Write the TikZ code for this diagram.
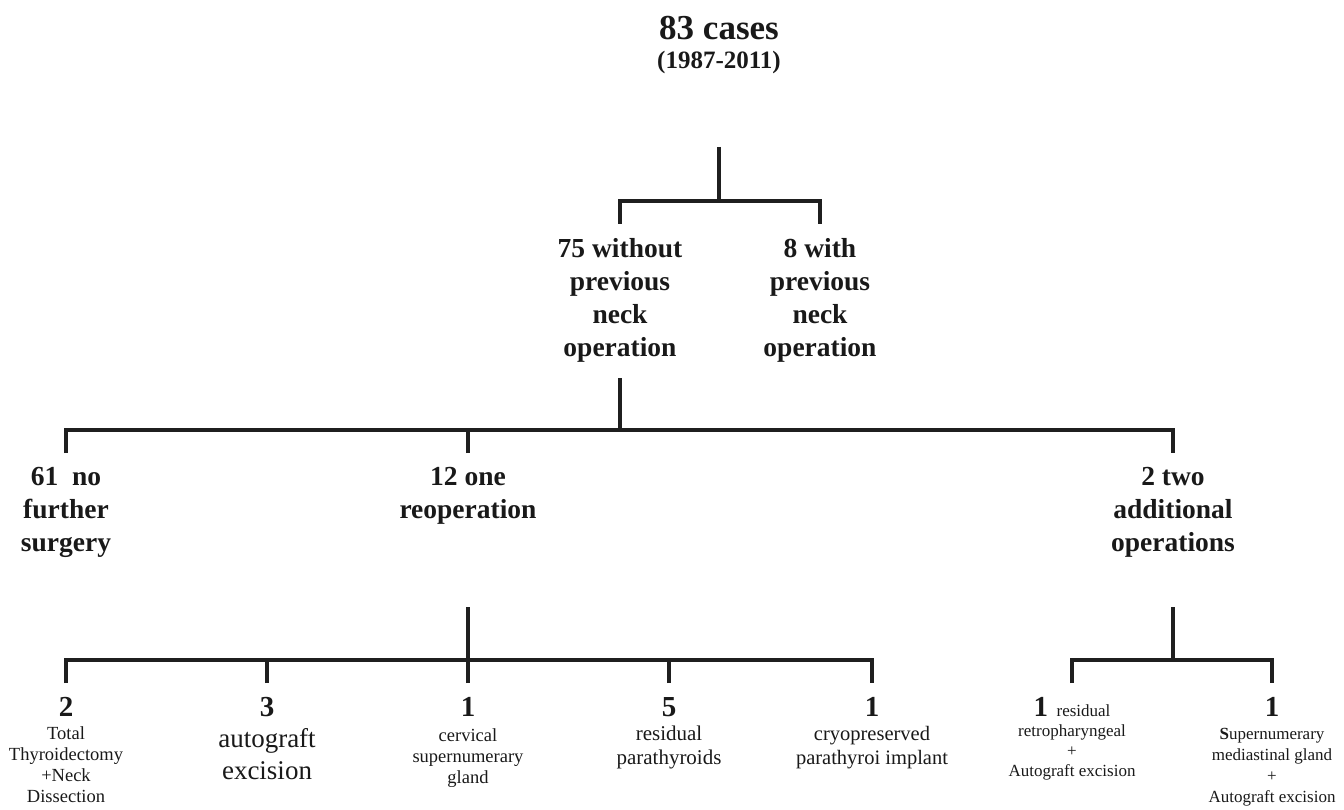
\documentclass[tikz,border=0pt]{standalone}
\usepackage{fontspec}
\setmainfont{Liberation Serif}
\usetikzlibrary{positioning, calc}
\tikzset{
	branch/.style={line width=4pt, color=black!88}
}
\tikzset{
	headtext/.style={font=\fontsize{27.5}{33}\selectfont\bfseries, align=center, inner xsep=0pt, inner ysep=14pt, anchor=north}
}
\tikzset{
	leaftext/.style={align=center, inner xsep=0pt, inner ysep=14.5pt, anchor=north}
}
\newcommand{\leafnum}[1]{{\fontsize{29}{29}\selectfont\bfseries #1}}

\begin{document}
\begin{tikzpicture}[x=1pt, y=-1pt, text=black!90]
      \useasboundingbox (0,0) rectangle (1344,810);
      % title
      \node[font=\fontsize{35}{35}\selectfont\bfseries, anchor=base] (title) at (719,40) {83 cases};
      \node[font=\fontsize{25}{25}\selectfont\bfseries, anchor=base] (years) at (719,69) {(1987-2011)};
      % first split
      \node[headtext] (nonprev) at (620,224) {75 without\\previous\\neck\\operation};
      \node[headtext] (prev) at (820,224) {8 with\\previous\\neck\\operation};
      \coordinate (top) at (719,147);
      \draw[branch] (top) -- ++(0,54) coordinate (fork1);
      \draw[branch] (nonprev.north) |- (fork1) -| (prev.north);
      % outcome after first operation
      \node[headtext] (nofurther) at (66,453) {61~~no\\further\\surgery};
      \node[headtext] (onereop) at (468,453) {12 one\\reoperation};
      \node[headtext] (twoadd) at (1173,453) {2 two\\additional\\operations};
      \coordinate (mid1) at (620,378);
      \draw[branch] (mid1) -- ++(0,52) coordinate (fork2);
      \draw[branch] (nofurther.north) |- (fork2) -| (twoadd.north);
      \draw[branch] (onereop.north) -- (onereop.north |- fork2);
      % one reoperation
      \node[leaftext, font=\fontsize{18.5}{21}\selectfont] (thyroid) at (66,683)
        {\leafnum{2}\\[2pt]Total\\Thyroidectomy\\+Neck\\Dissection};
      \node[leaftext, font=\fontsize{27}{32}\selectfont] (autograft) at (267,683)
        {\leafnum{3}\\[-1pt]autograft\\excision};
      \node[leaftext, font=\fontsize{18.5}{21}\selectfont] (cervical) at (468,683)
        {\leafnum{1}\\[4pt]cervical\\supernumerary\\gland};
      \node[leaftext, font=\fontsize{21}{24}\selectfont] (residual) at (669,683)
        {\leafnum{5}\\residual\\parathyroids};
      \node[leaftext, font=\fontsize{20.5}{24}\selectfont] (cryo) at (872,683)
        {\leafnum{1}\\cryopreserved\\parathyroi implant};
      \coordinate (mid2) at (468,607);
      \draw[branch] (mid2) -- ++(0,53) coordinate (fork3);
      \draw[branch] (thyroid.north) |- (fork3) -| (cryo.north);
      \foreach \leaf in {autograft, cervical, residual}
        \draw[branch] (\leaf.north) -- (\leaf.north |- fork3);
      % two additional operations
      \node[leaftext, font=\fontsize{17}{20}\selectfont] (retro) at (1072,683)
        {\leafnum{1}~~residual\\retropharyngeal\\+\\Autograft excision};
      \node[leaftext, font=\fontsize{17}{21}\selectfont] (mediast) at (1272,683)
        {\leafnum{1}\\[2pt]\textbf{S}upernumerary\\mediastinal gland\\+\\Autograft excision};
      \coordinate (mid3) at (1173,607);
      \draw[branch] (mid3) -- ++(0,53) coordinate (fork4);
      \draw[branch] (retro.north) |- (fork4) -| (mediast.north);
\end{tikzpicture}
\end{document}
